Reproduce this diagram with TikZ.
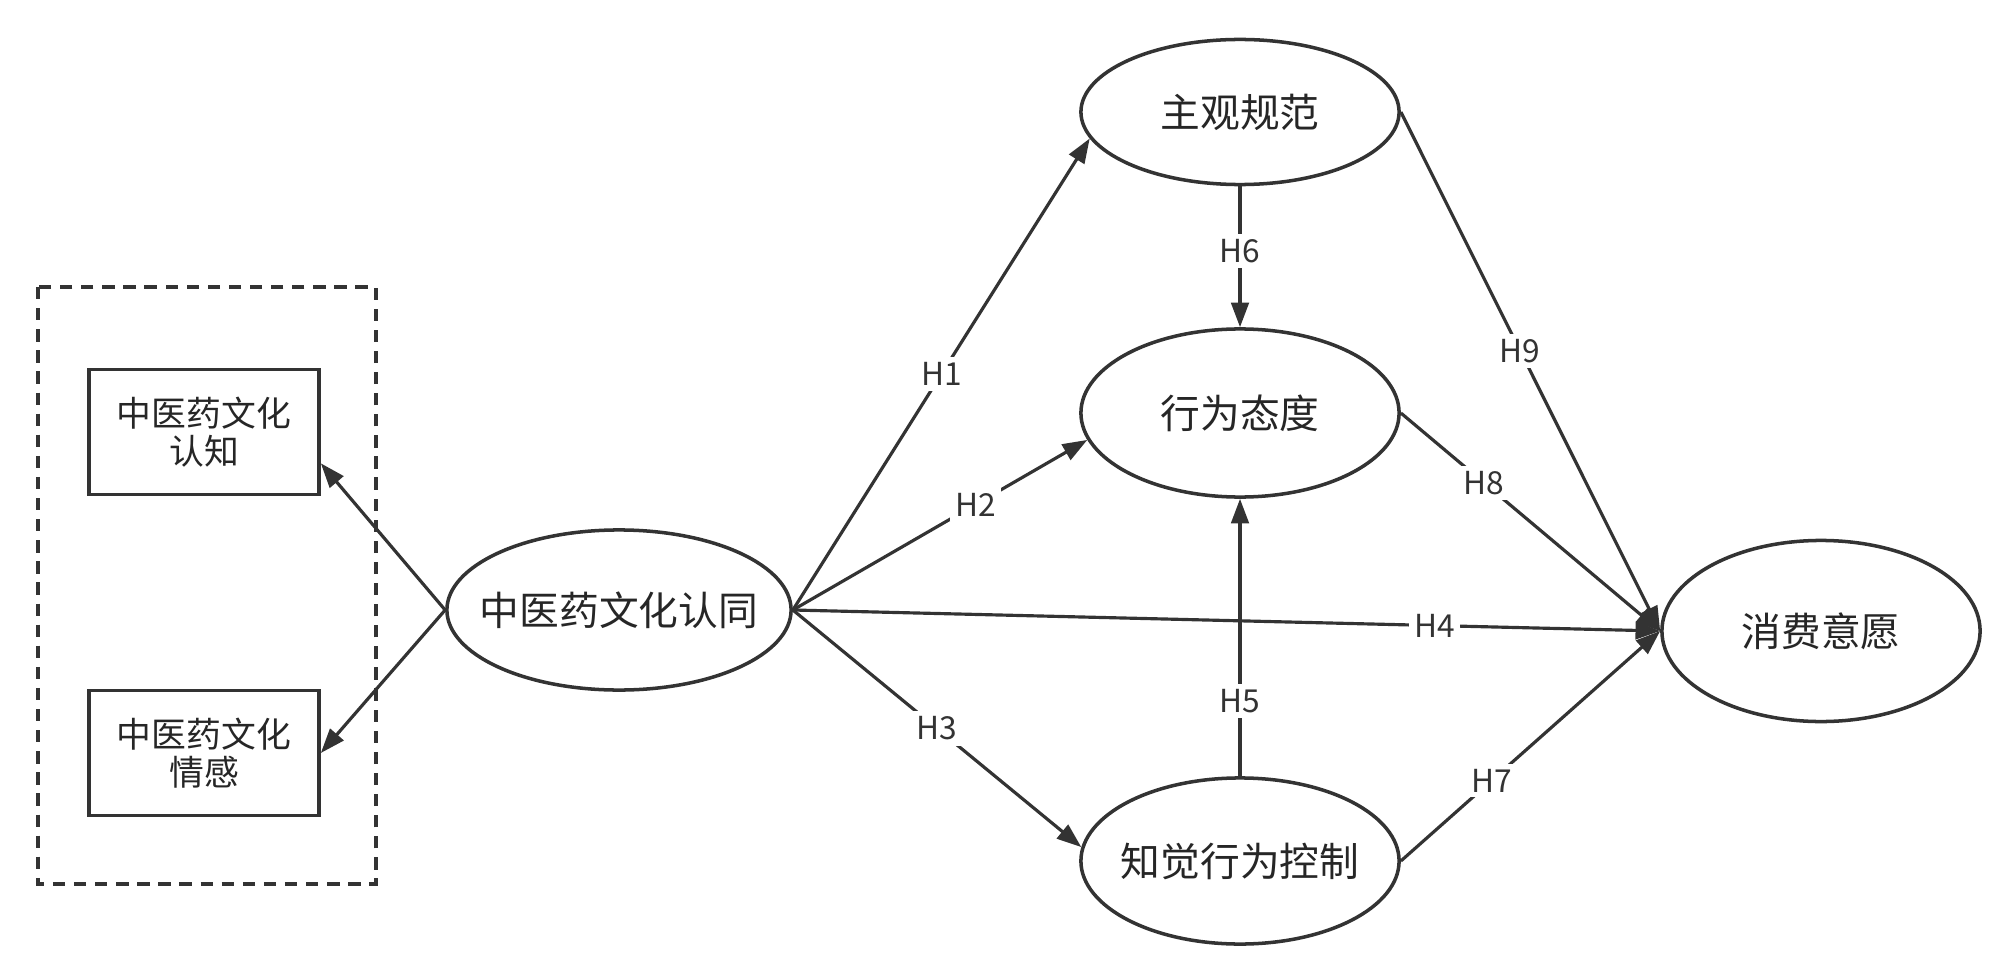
\documentclass[tikz,border=0pt]{standalone}
\usepackage{fontspec}
\usepackage{xcolor}
\usepackage{tikz}
\usetikzlibrary{shapes.geometric, arrows.meta, positioning}
\setmainfont{Noto Sans CJK SC}
\definecolor{modelgray}{HTML}{333333}

\begin{document}
\begin{tikzpicture}[
    x=0.01cm, y=-0.01cm,
    latent/.style={draw=modelgray,ellipse,line width=1pt,minimum width=3.18cm,minimum height=1.7cm,inner sep=0pt,font=\fontsize{11.3}{13}\selectfont,text=black!85},
    item/.style={draw=modelgray,rectangle,line width=1pt,minimum width=2.3cm,minimum height=1.25cm,align=center,font=\fontsize{9.9}{11}\selectfont,text=black!85},
    arr/.style={-{Triangle[length=7pt,width=5pt]},line width=0.9pt,modelgray},
    hyp/.style={fill=white,inner sep=1.5pt,font=\fontsize{9}{10}\selectfont,text=modelgray},
  ]
    \useasboundingbox (0,0) rectangle (2000,973);
    \draw[modelgray,line width=1pt,dash pattern=on 3.5pt off 2.5pt] (38,287) rectangle (376,884);

    \node[item] (cog) at (204,432) {中医药文化\\认知};
    \node[item] (aff) at (204,753) {中医药文化\\情感};

    \node[latent, minimum width=3.44cm, minimum height=1.6cm, inner xsep=-0.18cm] (tcm) at (619,610) {中医药文化认同};
    \node[latent, minimum height=1.45cm] (sn) at (1240,112) {主观规范};
    \node[latent, minimum height=1.68cm] (ba) at (1240,413) {行为态度};
    \node[latent, minimum height=1.66cm, inner xsep=-0.1cm] (pbc) at (1240,861) {知觉行为控制};
    \node[latent, minimum height=1.81cm] (wi) at (1821,631) {消费意愿};

    \draw[arr] (tcm.west) -- (cog.-15);
    \draw[arr] (tcm.west) -- (aff.east);

    \draw[arr] (tcm.east) -- node[hyp, pos=0.5] {H1} (sn.190);
    \draw[arr] (tcm.east) -- node[hyp, pos=0.62] {H2} (ba.190);
    \draw[arr] (tcm.east) -- node[hyp, pos=0.5] {H3} (pbc.175);
    \draw[arr] (tcm.east) -- node[hyp, pos=0.74] {H4} (wi.west);
    \draw[arr] (pbc.north) -- node[hyp, pos=0.27] {H5} (ba.south);
    \draw[arr] (sn.south) -- node[hyp, pos=0.46] {H6} (ba.north);
    \draw[arr] (pbc.east) -- node[hyp, pos=0.35] {H7} (wi.west);
    \draw[arr] (ba.east) -- node[hyp, pos=0.32] {H8} (wi.west);
    \draw[arr] (sn.east) -- node[hyp, pos=0.46] {H9} (wi.west);
  \end{tikzpicture}
\end{document}
